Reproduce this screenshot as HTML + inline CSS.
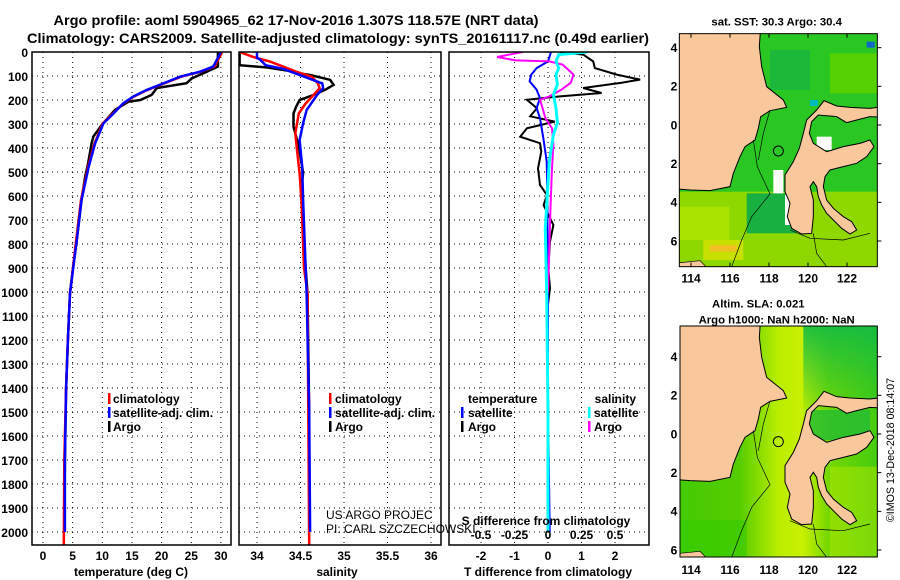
<!DOCTYPE html>
<html><head><meta charset="utf-8">
<style>
html,body{margin:0;padding:0;background:#fff;}
#wrap{position:relative;width:900px;height:580px;overflow:hidden;font-family:"Liberation Sans",sans-serif;}
svg text{font-family:"Liberation Sans",sans-serif;font-weight:bold;}
</style></head>
<body>
<div id="wrap">
<svg id="main" width="900" height="580" viewBox="0 0 900 580" style="position:absolute;left:0;top:0">
  <text x="296" y="25" font-size="14" text-anchor="middle" textLength="485" lengthAdjust="spacingAndGlyphs">Argo profile: aoml 5904965_62 17-Nov-2016 1.307S 118.57E (NRT data)</text>
  <text x="338" y="43" font-size="14" text-anchor="middle" textLength="622" lengthAdjust="spacingAndGlyphs">Climatology: CARS2009. Satellite-adjusted climatology: synTS_20161117.nc (0.49d earlier)</text>
  <defs>
    <clipPath id="c1"><rect x="32" y="52" width="199" height="493"/></clipPath>
    <clipPath id="c2"><rect x="239" y="52" width="202" height="493"/></clipPath>
    <clipPath id="c3"><rect x="449" y="52" width="200" height="493"/></clipPath>
  </defs>
  <g id="grid"></g>
  <g id="series"></g>
  <g id="frames"></g>
  <g id="labels"></g>
</svg>

<svg id="maps" width="230" height="580" viewBox="0 0 690 1740" style="position:absolute;left:670px;top:0">
  <defs>
    <linearGradient id="slaH" x1="0" y1="0" x2="1" y2="0">
      <stop offset="0" stop-color="#44cc00"/>
      <stop offset="0.3" stop-color="#55cc00"/>
      <stop offset="0.5" stop-color="#bbee00"/>
      <stop offset="0.62" stop-color="#c8f000"/>
      <stop offset="0.75" stop-color="#77d800"/>
      <stop offset="1" stop-color="#44cc11"/>
    </linearGradient>
    <linearGradient id="slaTop" x1="0" y1="0" x2="0" y2="1">
      <stop offset="0" stop-color="#11bb44" stop-opacity="0.9"/>
      <stop offset="1" stop-color="#11bb44" stop-opacity="0"/>
    </linearGradient>
    <clipPath id="m1"><rect x="28" y="101" width="594" height="699"/></clipPath>
    <clipPath id="m2"><rect x="30" y="978" width="592" height="693"/></clipPath>
    <g id="land">
      <polygon points="45,80 272,80 268,140 275,200 290,260 340,300 350,322 300,332 272,350 265,385 255,420 225,440 210,470 190,520 180,560 120,572 60,570 10,566 10,80" fill="#f8c79b" stroke="#000" stroke-width="3"/>
      <polygon points="400,400 410,360 440,330 462,302 500,318 540,322 600,325 640,320 640,352 600,350 560,360 530,368 500,350 445,345 425,365 418,400 430,430 470,455 520,440 570,430 600,420 612,440 590,470 560,490 520,500 480,510 465,530 460,560 470,600 490,625 520,650 545,665 560,690 540,702 515,685 490,660 470,640 455,615 445,590 440,560 430,545 420,560 430,600 430,650 425,700 395,702 365,685 352,650 360,610 345,575 345,525 370,485 388,445" fill="#f8c79b" stroke="#000" stroke-width="3"/>
      <polygon points="10,790 90,782 110,802 10,802" fill="#f8c79b" stroke="#000" stroke-width="2"/>
      <polyline points="250,420 262,500 300,582 245,650 215,720 185,800" fill="none" stroke="#000" stroke-width="2"/>
      <polyline points="300,330 280,400 265,480" fill="none" stroke="#000" stroke-width="2"/>
      <polyline points="430,700 440,760 470,800" fill="none" stroke="#000" stroke-width="2"/>
      <polyline points="360,690 420,715 520,720 600,700" fill="none" stroke="#000" stroke-width="2"/>
      <circle cx="325" cy="453" r="15" fill="none" stroke="#000" stroke-width="3"/>
    </g>
  </defs>
  <!-- top map -->
  <text x="320" y="76" font-size="34" text-anchor="middle">sat. SST: 30.3 Argo: 30.4</text>
  <g clip-path="url(#m1)">
    <rect x="28" y="101" width="594" height="699" fill="#2ac622"/>
    <rect x="28" y="575" width="594" height="225" fill="#8ed800"/>
    <rect x="28" y="620" width="150" height="100" fill="#a8e400"/>
    <rect x="100" y="720" width="120" height="60" fill="#c8e000"/>
    <rect x="120" y="735" width="80" height="20" fill="#f0c020"/>
    <rect x="480" y="160" width="142" height="120" fill="#55d000"/>
    <rect x="300" y="150" width="120" height="120" fill="#1cb83a"/>
    <rect x="230" y="580" width="150" height="120" fill="#18b040"/>
    <rect x="310" y="510" width="30" height="70" fill="#fff"/>
    <rect x="345" y="585" width="35" height="90" fill="#fff"/>
    <rect x="440" y="410" width="45" height="40" fill="#fff"/>
    <rect x="420" y="300" width="24" height="18" fill="#00bbbb"/>
    <rect x="590" y="125" width="24" height="18" fill="#1166cc"/>
    <use href="#land"/>
  </g>
  <rect x="28" y="101" width="594" height="699" fill="none" stroke="#000" stroke-width="3"/>
  <!-- bottom map -->
  <text x="265" y="922" font-size="34" text-anchor="middle">Altim. SLA: 0.021</text>
  <text x="320" y="970" font-size="34" text-anchor="middle">Argo h1000: NaN h2000: NaN</text>
  <g clip-path="url(#m2)">
    <rect x="30" y="978" width="592" height="693" fill="url(#slaH)"/>
    <rect x="400" y="978" width="222" height="280" fill="url(#slaTop)"/>
    <rect x="420" y="1230" width="180" height="90" fill="#22bb33" opacity="0.8"/>
    <rect x="30" y="1560" width="200" height="111" fill="#33cc00" opacity="0.6"/>
    <rect x="480" y="1400" width="142" height="271" fill="#b0e800" opacity="0.5"/>
    <g transform="translate(0,872)"><use href="#land"/></g>
  </g>
  <rect x="30" y="978" width="592" height="693" fill="none" stroke="#000" stroke-width="3"/>
  <g id="mapAxes"></g>
  <text transform="translate(672,1350) rotate(-90)" font-size="32" text-anchor="middle" style="font-weight:normal">©IMOS 13-Dec-2018 08:14:07</text>
</svg>
</div>

<script>
// ---------------- data ----------------
const depthTicks = [0,100,200,300,400,500,600,700,800,900,1000,1100,1200,1300,1400,1500,1600,1700,1800,1900,2000];
const tempTicks = [0,5,10,15,20,25,30];
const salTicks = [34,34.5,35,35.5,36];
const salTickLabels = ["34","34.5","35","35.5","36"];
const dTTicks = [-2,-1,0,1,2];
const dSTicks = [-0.5,-0.25,0,0.25,0.5];
const dSTickLabels = ["-0.5","-0.25","0","0.25","0.5"];

const tArgoDepth = [0,61,82,110,130,150,179,200,207,242,304,352,380,464,520,617,783,894,1005,1200,1400,1700,2000];
const tArgoVal   = [29.5,29.5,27.6,25.1,24.2,19.2,18.3,16.4,14.4,12.1,9.9,8.5,8.2,7.6,7.1,6.5,5.7,5.1,4.55,4.2,3.9,3.7,3.6];
const tClimDepth = [0,20,61,82,103,131,158,186,214,256,297,380,478,617,783,1005,1200,1400,1700,2055];
const tClimVal   = [30.2,29.8,28.9,26.6,23.3,20.4,17.6,15.3,13.6,11.8,10.1,8.7,7.6,6.4,5.6,4.55,4.2,3.9,3.6,3.5];
const tSatDepth  = [0,20,61,82,103,131,158,186,214,256,297,380,478,617,783,1005,1200,1400,1700,2000];
const tSatVal    = [30.0,29.6,28.7,26.5,23.1,20.3,17.5,15.2,13.5,11.9,10.2,8.8,7.7,6.5,5.7,4.55,4.2,3.9,3.7,3.7];

const sArgoDepth = [0,55,64,78,89,96,116,137,158,179,200,228,256,311,394,478,506,561,755,1005,1500,2000];
const sArgoVal   = [33.8,33.8,34.11,34.35,34.49,34.61,34.84,34.88,34.78,34.65,34.49,34.45,34.42,34.42,34.48,34.52,34.53,34.51,34.53,34.58,34.6,34.6];
const sClimDepth = [0,20,40,61,82,103,131,151,179,214,256,339,408,506,617,900,1005,1500,2055];
const sClimVal   = [33.8,33.95,34.15,34.3,34.45,34.63,34.7,34.72,34.65,34.56,34.48,34.44,34.46,34.49,34.51,34.54,34.58,34.59,34.6];
const sSatDepth  = [0,25,30,55,70,131,151,179,242,297,367,478,617,1005,1500,2000];
const sSatVal    = [34.0,34.0,34.03,34.1,34.3,34.75,34.76,34.69,34.57,34.53,34.49,34.52,34.53,34.57,34.6,34.61];

const dTArgoDepth = [0,11,39,67,94,115,128,150,171,185,199,234,268,290,318,353,380,415,485,554,596,638,721,790,901,985,1050];
const dTArgoVal   = [0.36,1.05,1.35,1.4,2.05,2.75,2.2,1.05,1.6,0.36,-0.63,-0.33,-0.53,0.2,-0.63,-0.83,-0.24,-0.2,-0.3,-0.24,-0.03,-0.13,0.16,0.06,0.01,0.06,0.0];
const dTSatDepth  = [0,39,67,94,122,157,192,234,275,358,456,596,1000,1450,2000];
const dTSatVal    = [0.09,-0.0,-0.34,-0.5,-0.55,-0.34,-0.24,-0.34,-0.24,-0.14,-0.04,-0.02,0.0,0.0,0.05];
const dSArgoDepth = [0,21,35,39,53,94,128,157,185,199,234,275,318,387,485,624,1000];
const dSArgoVal   = [-0.19,-0.38,-0.24,0.01,0.11,0.19,0.17,0.1,0.01,-0.06,-0.04,-0.02,0.03,0.04,0.03,0.02,0.0];
const dSSatDepth  = [0,11,39,67,94,136,178,234,296,345,456,735,1000,1500,2000];
const dSSatVal    = [0.29,0.08,0.06,0.08,0.06,0.07,0.04,0.06,0.07,0.04,0.01,-0.02,-0.01,0.0,0.0];

const mapLonTicks = [114,116,118,120,122];
const mapLatTicks = [4,2,0,-2,-4,-6];

// ---------------- axes ----------------
const yD = d => 52 + d*0.24;
const xT = t => 43 + t*5.93;
const xS = s => 257 + (s-34)*87;
const xDT = v => 548 + v*33.5;
const xDS = v => 548 + v*134;

const NS = "http://www.w3.org/2000/svg";
function mk(tag, attrs, parent){ const e=document.createElementNS(NS,tag); for(const k in attrs) e.setAttribute(k,attrs[k]); parent.appendChild(e); return e; }
const grid = document.getElementById('grid');
const series = document.getElementById('series');
const frames = document.getElementById('frames');
const labels = document.getElementById('labels');

const panels = [
  {x0:32,x1:231,clip:'c1',name:'temperature-panel'},
  {x0:239,x1:441,clip:'c2',name:'salinity-panel'},
  {x0:449,x1:649,clip:'c3',name:'difference-panel'}
];
panels.forEach(p=>{
  depthTicks.forEach(d=>{
    if(d===0) return;
    const l = mk('line',{x1:p.x0,x2:p.x1,y1:yD(d),y2:yD(d),stroke:'#000','stroke-width':1,'stroke-dasharray':'1,4'},grid);
    
    
  });
});
function vgrid(xs, fx){
  xs.forEach(v=>{
    const l = mk('line',{x1:fx(v),x2:fx(v),y1:52,y2:545,stroke:'#000','stroke-width':1,'stroke-dasharray':'1,4'},grid);
    
    
  });
}
vgrid(tempTicks, xT); vgrid(salTicks, xS); vgrid(dTTicks, xDT);

function drawLine(dep, val, fx, color, clip, name, w){
  const pts = dep.map((d,i)=>fx(val[i]).toFixed(1)+','+yD(d).toFixed(1)).join(' ');
  const pl = mk('polyline',{points:pts,fill:'none',stroke:color,'stroke-width':w||2.5,'stroke-linejoin':'miter','clip-path':'url(#'+clip+')'},series);
  
  
}
drawLine(tArgoDepth,tArgoVal,xT,'#000','c1','temperature-argo-line');
drawLine(tClimDepth,tClimVal,xT,'#ff0000','c1','temperature-climatology-line');
drawLine(tSatDepth,tSatVal,xT,'#0000ff','c1','temperature-satellite-line');
drawLine(sArgoDepth,sArgoVal,xS,'#000','c2','salinity-argo-line');
drawLine(sClimDepth,sClimVal,xS,'#ff0000','c2','salinity-climatology-line');
drawLine(sSatDepth,sSatVal,xS,'#0000ff','c2','salinity-satellite-line');
drawLine(dTArgoDepth,dTArgoVal,xDT,'#000','c3','t-diff-argo-line',2);
drawLine(dTSatDepth,dTSatVal,xDT,'#0000ff','c3','t-diff-satellite-line',2);
drawLine(dSArgoDepth,dSArgoVal,xDS,'#ff00ff','c3','s-diff-argo-line',2);
drawLine(dSSatDepth,dSSatVal,xDS,'#00ffff','c3','s-diff-satellite-line',3);

panels.forEach(p=>{
  const r = mk('rect',{x:p.x0,y:52,width:p.x1-p.x0,height:493,fill:'none',stroke:'#000','stroke-width':1.5},frames);
  
  
});

function txt(x,y,s,size,anchor,name,color,weight){
  const t = mk('text',{x:x,y:y,'font-size':size,'text-anchor':anchor||'start',fill:color||'#000'},labels);
  if(weight) t.setAttribute('style','font-weight:'+weight);
  t.textContent = s;
  
  
  return t;
}
depthTicks.forEach(d=>txt(28,yD(d)+5,String(d),12,'end','depth-tick-label'));
tempTicks.forEach(v=>txt(xT(v),560,String(v),12,'middle','temperature-tick-label'));
salTicks.forEach((v,i)=>txt(xS(v),560,salTickLabels[i],12,'middle','salinity-tick-label'));
dTTicks.forEach(v=>txt(xDT(v),560,String(v),12,'middle','t-diff-tick-label'));
dSTicks.forEach((v,i)=>txt(xDS(v),539,dSTickLabels[i],12,'middle','s-diff-tick-label'));
txt(131,576,'temperature (deg C)',12,'middle','temperature-axis-title');
txt(337,576,'salinity',12,'middle','salinity-axis-title');
txt(548,576,'T difference from climatology',12,'middle','t-diff-axis-title');
txt(546,525,'S difference from climatology',12,'middle','s-diff-axis-title');
txt(326,519,'US ARGO PROJEC',12,'start','project-label','#000','normal');
txt(326,533,'PI: CARL SZCZECHOWSKI',12,'start','pi-label','#000','normal');

function legendBar(x,y,color){
  const r = mk('rect',{x:x,y:y-10,width:2.5,height:11,fill:color},labels);
  
  
}
const legRows=[403,417,431];
[['climatology','#ff0000'],['satellite-adj. clim.','#0000ff'],['Argo','#000']].forEach((e,i)=>{
  legendBar(108,legRows[i],e[1]); txt(113,legRows[i],e[0],12,'start','temperature-legend-entry');
  legendBar(329,legRows[i],e[1]); txt(335,legRows[i],e[0],12,'start','salinity-legend-entry');
});
txt(468,403,'temperature',12,'start','diff-legend-temperature-header');
txt(636,403,'salinity',12,'end','diff-legend-salinity-header');
legendBar(461,417,'#0000ff'); txt(468,417,'satellite',12,'start','diff-legend-t-satellite');
legendBar(461,431,'#000'); txt(468,431,'Argo',12,'start','diff-legend-t-argo');
legendBar(588,417,'#00ffff'); txt(594,417,'satellite',12,'start','diff-legend-s-satellite');
legendBar(588,431,'#ff00ff'); txt(594,431,'Argo',12,'start','diff-legend-s-argo');

const mA = document.getElementById('mapAxes');
function mtxt(x,y,s,anchor,name){
  const t = mk('text',{x:x,y:y,'font-size':36,'text-anchor':anchor},mA);
  t.textContent=s;
  
  
}
const lonX = lon => 63 + (lon-114)*58.5;
const latYTop = lat => 375 - lat*58;
const latYBot = lat => 1302 - lat*58;
mapLonTicks.forEach(v=>{
  mtxt(lonX(v),848,String(v),'middle','sst-lon-label');
  mtxt(lonX(v),1722,String(v),'middle','sla-lon-label');
  mk('line',{x1:lonX(v),x2:lonX(v),y1:800,y2:788,stroke:'#000','stroke-width':3},mA);
  mk('line',{x1:lonX(v),x2:lonX(v),y1:101,y2:113,stroke:'#000','stroke-width':3},mA);
});
mapLatTicks.forEach(v=>{
  mtxt(22,latYTop(v)+13,String(v),'end','sst-lat-label');
  mtxt(22,latYBot(v)+13,String(v),'end','sla-lat-label');
  mk('line',{x1:622,x2:634,y1:latYTop(v),y2:latYTop(v),stroke:'#000','stroke-width':3},mA);
  mk('line',{x1:622,x2:634,y1:latYBot(v),y2:latYBot(v),stroke:'#000','stroke-width':3},mA);
});
</script>
</body></html>
